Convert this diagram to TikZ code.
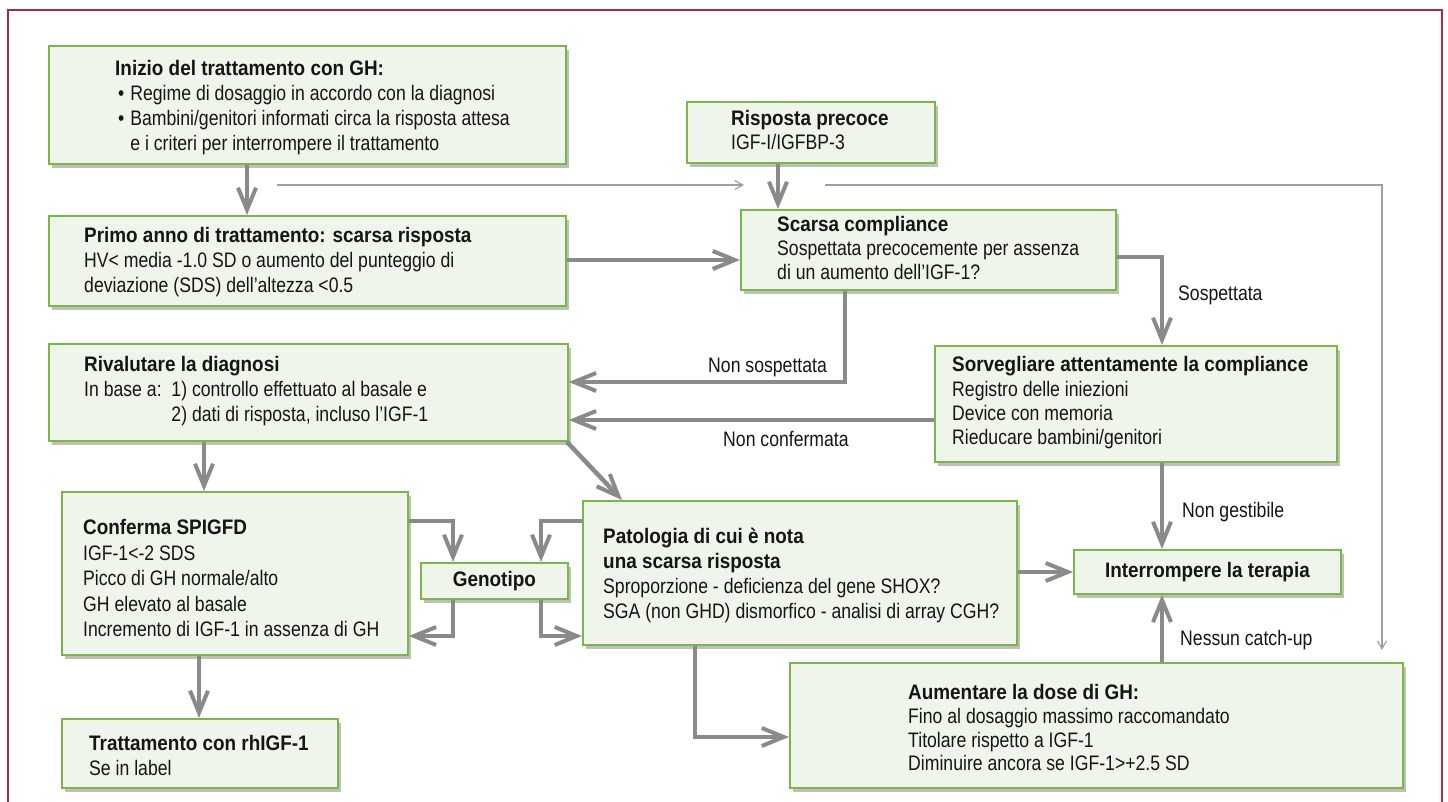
\documentclass[tikz,border=0pt]{standalone}
\usepackage{fontspec}
\setmainfont{Liberation Sans}[UprightFeatures={FakeStretch=0.84}, BoldFeatures={FakeStretch=0.90}]
\usetikzlibrary{arrows.meta,shadows}
\definecolor{framec}{HTML}{A3294F}
\definecolor{boxfill}{HTML}{F0F5EB}
\definecolor{boxline}{HTML}{7AB648}
\definecolor{arrowc}{HTML}{8A8A8A}
\definecolor{thinc}{HTML}{A0A0A0}
\definecolor{txtc}{HTML}{151515}
\newcommand\topstrut{\rule{0pt}{20pt}}
\begin{document}
\begin{tikzpicture}[x=1pt,y=-1pt,
  gbox/.style={draw=boxline, line width=1.8pt, fill=boxfill, inner sep=0pt, anchor=north west,
    font=\fontsize{21}{25}\selectfont\bfseries, text=txtc,
    drop shadow={shadow xshift=3pt,shadow yshift=-4pt,opacity=0.25,fill=black}},
  txt/.style={anchor=north west, inner sep=0pt, align=left, font=\fontsize{21}{25}\selectfont, text=txtc},
  lbl/.style={anchor=base west, inner sep=0pt, font=\fontsize{21}{25}\selectfont, text=txtc},
  thickarrow/.style={draw=arrowc, line width=4.5pt, -{Straight Barb[length=22pt,width=18pt,line width=4pt]}},
  thinarrow/.style={draw=thinc, line width=1.3pt, -{Straight Barb[length=8pt,width=9pt,line width=1.2pt]}},
]
\useasboundingbox (0,0) rectangle (1448,802);
\clip (0,0) rectangle (1448,802);
\fill[white] (0,0) rectangle (1448,802);
\draw[framec, line width=2.5pt] (8,830) -- (8,10) -- (1442,10) -- (1442,830);

% boxes
\node[gbox, minimum width=517pt, minimum height=118pt] (inizio) at (48,45) {};
\node[gbox, minimum width=248pt, minimum height=61pt] (risposta) at (686,101) {};
\node[gbox, minimum width=517pt, minimum height=90pt] (primo) at (48,215) {};
\node[gbox, minimum width=375pt, minimum height=80pt] (scarsa) at (740,209) {};
\node[gbox, minimum width=519pt, minimum height=97pt] (rivalutare) at (48,343) {};
\node[gbox, minimum width=402pt, minimum height=116pt] (sorvegliare) at (934,345) {};
\node[gbox, minimum width=346pt, minimum height=163pt] (conferma) at (61,491) {};
\node[gbox, minimum width=147pt, minimum height=36pt] (genotipo) at (420,562) {Genotipo};
\node[gbox, minimum width=434pt, minimum height=144pt] (patologia) at (582,500) {};
\node[gbox, minimum width=267pt, minimum height=44pt] (interrompere) at (1073,549) {Interrompere la terapia};
\node[gbox, minimum width=613pt, minimum height=125pt] (aumentare) at (789,662) {};
\node[gbox, minimum width=276pt, minimum height=69pt] (trattamento) at (61,718) {};

% texts
\node[txt] (t-inizio) at (115,55.5) {\topstrut\textbf{Inizio del trattamento con GH:}\\
  \hspace{3pt}\textbullet\hspace{6pt}Regime di dosaggio in accordo con la diagnosi\\
  \hspace{3pt}\textbullet\hspace{6pt}Bambini/genitori informati circa la risposta attesa\\
  \hspace{3pt}\phantom{\textbullet}\hspace{6pt}e i criteri per interrompere il trattamento};
\node[txt, font=\fontsize{21}{24}\selectfont] (t-risposta) at (731,105.5) {\topstrut\textbf{Risposta precoce}\\ IGF-I/IGFBP-3};
\node[txt] (t-primo) at (84,222.5) {\topstrut\textbf{Primo anno di trattamento: scarsa risposta}\\
  HV< media -1.0 SD o aumento del punteggio di\\ deviazione (SDS) dell’altezza <0.5};
\node[txt, font=\fontsize{21}{24}\selectfont] (t-scarsa) at (777,211.5) {\topstrut\textbf{Scarsa compliance}\\
  Sospettata precocemente per assenza\\ di un aumento dell’IGF-1?};
\node[txt] (t-rivalutare) at (84,351.5) {\topstrut\textbf{Rivalutare la diagnosi}\\
  In base a:\ \ 1) controllo effettuato al basale e\\ \phantom{In base a:\ \ }2) dati di risposta, incluso l’IGF-1};
\node[txt, font=\fontsize{21}{24.3}\selectfont] (t-sorvegliare) at (952,351.5) {\topstrut\textbf{Sorvegliare attentamente la compliance}\\
  Registro delle iniezioni\\ Device con memoria\\ Rieducare bambini/genitori};
\node[txt, font=\fontsize{21}{25.5}\selectfont] (t-conferma) at (83,514.5) {\topstrut\textbf{Conferma SPIGFD}\\
  IGF-1<-2 SDS\\ Picco di GH normale/alto\\ GH elevato al basale\\ Incremento di IGF-1 in assenza di GH};
\node[txt] (t-patologia) at (603,523.5) {\topstrut\textbf{Patologia di cui è nota}\\ \textbf{una scarsa risposta}\\
  Sproporzione - deficienza del gene SHOX?\\ SGA (non GHD) dismorfico - analisi di array CGH?};
\node[txt, font=\fontsize{21}{23.7}\selectfont] (t-aumentare) at (908,679.5) {\topstrut\textbf{Aumentare la dose di GH:}\\
  Fino al dosaggio massimo raccomandato\\ Titolare rispetto a IGF-1\\ Diminuire ancora se IGF-1>+2.5 SD};
\node[txt] (t-trattamento) at (89,730.5) {\topstrut\textbf{Trattamento con rhIGF-1}\\ Se in label};

% labels
\node[lbl] (l-sosp) at (1178,300.5) {Sospettata};
\node[lbl] (l-nonsosp) at (708,372.5) {Non sospettata};
\node[lbl] (l-noncon) at (723,446.5) {Non confermata};
\node[lbl] (l-nonges) at (1182,517.5) {Non gestibile};
\node[lbl] (l-nessun) at (1180,645.5) {Nessun catch-up};

% helper coordinates
\coordinate (k1) at (695,737);
\coordinate (k2) at (845,382);
\coordinate (k3) at (0,420);
\coordinate (k4) at (453,521);
\coordinate (k5) at (541,521);
\coordinate (k6) at (453,636);
\coordinate (k7) at (541,636);
\coordinate (k8) at (0,572);
\coordinate (k9) at (1162,0);
\coordinate (k10) at (199,0);
\coordinate (k11) at (204,0);
\coordinate (k12) at (0,260);
\coordinate (k13) at (1162,257);
\coordinate (k14) at (778,0);
\coordinate (k15) at (247,0);
\coordinate (dg) at (622,0);
\coordinate (th1) at (277,185);
\coordinate (th2) at (744,185);
\coordinate (th3) at (825,185);
\coordinate (th4) at (1382,185);
\coordinate (th5) at (1382,650);

% connectors
\draw[thinarrow] (th1) -- (th2);
\draw[thinarrow] (th3) -- (th4) -- (th5);
\draw[thickarrow] (inizio.south -| k15) -- (primo.north -| k15);
\draw[thickarrow] (risposta.south -| k14) -- (scarsa.north -| k14);
\draw[thickarrow] (primo.east |- k12) -- (scarsa.west |- k12);
\draw[thickarrow] (scarsa.south -| k2) -- (k2) -- (rivalutare.east |- k2);
\draw[thickarrow] (scarsa.east |- k13) -- (k13) -- (sorvegliare.north -| k13);
\draw[thickarrow] (sorvegliare.west |- k3) -- (rivalutare.east |- k3);
\draw[thickarrow] (rivalutare.south -| k11) -- (conferma.north -| k11);
\draw[thickarrow] ([xshift=-2pt]rivalutare.south east) -- (patologia.north -| dg);
\draw[thickarrow] (conferma.east |- k4) -- (k4) -- (genotipo.north -| k4);
\draw[thickarrow] (patologia.west |- k5) -- (k5) -- (genotipo.north -| k5);
\draw[thickarrow] (genotipo.south -| k6) -- (k6) -- (conferma.east |- k6);
\draw[thickarrow] (genotipo.south -| k7) -- (k7) -- (patologia.west |- k7);
\draw[thickarrow] (patologia.east |- k8) -- (interrompere.west |- k8);
\draw[thickarrow] (sorvegliare.south -| k9) -- (interrompere.north -| k9);
\draw[thickarrow] (aumentare.north -| k9) -- (interrompere.south -| k9);
\draw[thickarrow] (conferma.south -| k10) -- (trattamento.north -| k10);
\draw[thickarrow] (patologia.south -| k1) -- (k1) -- (aumentare.west |- k1);
\end{tikzpicture}
\end{document}
